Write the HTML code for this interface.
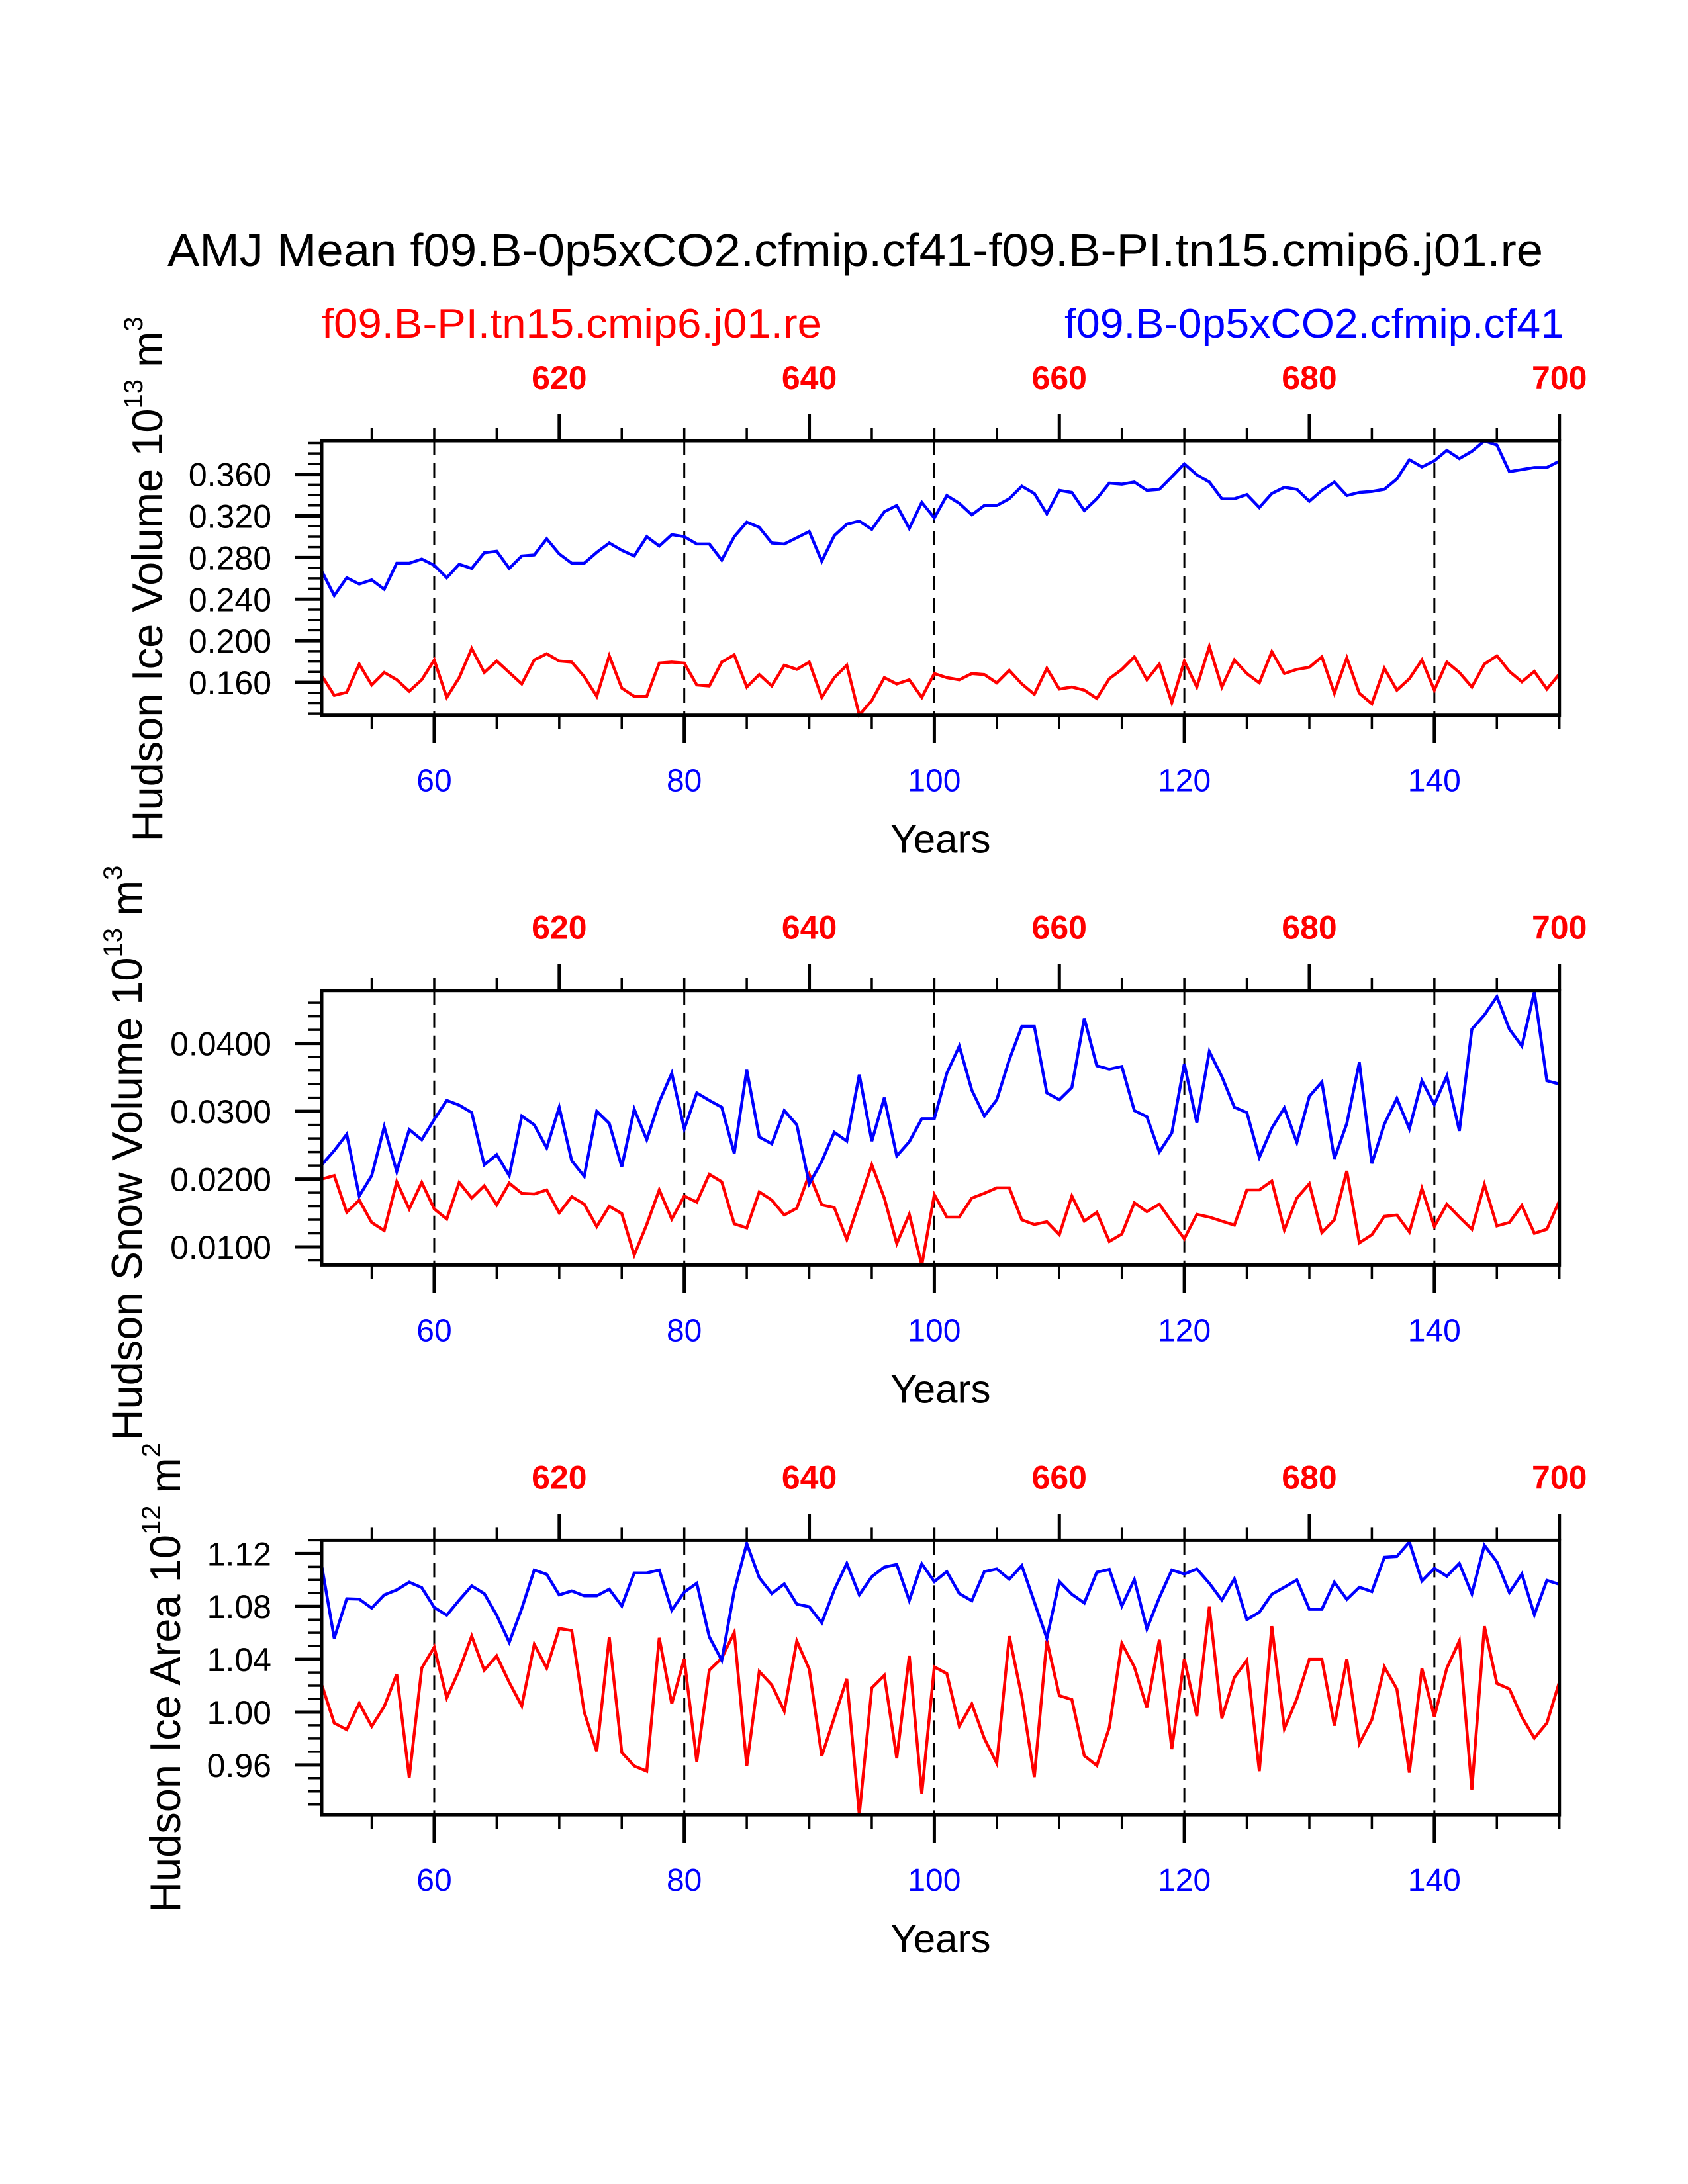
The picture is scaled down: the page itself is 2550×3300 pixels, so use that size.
<!DOCTYPE html>
<html><head><meta charset="utf-8"><style>
html,body{margin:0;padding:0;background:#fff;}
svg{display:block;font-family:"Liberation Sans",sans-serif;}
</style></head><body>
<svg id="chart" width="2550" height="3300" viewBox="0 0 2550 3300" xmlns="http://www.w3.org/2000/svg">
<rect width="2550" height="3300" fill="#fff"/>
<text x="1292" y="402" font-size="70" text-anchor="middle" textLength="2078" lengthAdjust="spacingAndGlyphs">AMJ Mean f09.B-0p5xCO2.cfmip.cf41-f09.B-PI.tn15.cmip6.j01.re</text>
<text x="486" y="510" font-size="62" fill="#ff0000" textLength="755" lengthAdjust="spacingAndGlyphs">f09.B-PI.tn15.cmip6.j01.re</text>
<text x="2363" y="510" font-size="62" fill="#0000ff" text-anchor="end" textLength="755" lengthAdjust="spacingAndGlyphs">f09.B-0p5xCO2.cfmip.cf41</text>
<g id="panels"></g>
</svg>
<script>
// shared x data
const years = [];
for (let y = 51; y <= 150; y++) years.push(y);
const bottomTicks = [60, 80, 100, 120, 140];
const topTickLabels = [620, 640, 660, 680, 700];
const topOffset = 550;

// Panel 1: Hudson Ice Volume
const iceVolExp = [0.267,0.2435,0.2605,0.2545,0.2585,0.2495,0.2745,0.2745,0.2785,0.2725,0.2605,0.2735,0.2695,0.2845,0.286,0.2695,0.2815,0.2825,0.298,0.2835,0.2745,0.2745,0.285,0.294,0.287,0.2815,0.300,0.291,0.302,0.300,0.293,0.293,0.2775,0.300,0.314,0.309,0.294,0.293,0.299,0.305,0.2765,0.301,0.312,0.315,0.307,0.324,0.330,0.308,0.333,0.318,0.3395,0.332,0.321,0.330,0.330,0.3365,0.3485,0.3415,0.322,0.3445,0.3425,0.325,0.3365,0.3515,0.3505,0.3525,0.3445,0.3455,0.3575,0.370,0.3595,0.3525,0.3365,0.3365,0.3405,0.328,0.3415,0.3475,0.3455,0.334,0.3445,0.3525,0.3395,0.3425,0.3435,0.3455,0.3555,0.374,0.367,0.373,0.383,0.375,0.382,0.392,0.388,0.3625,0.3645,0.3665,0.3665,0.3727];
const iceVolCtl = [0.1665,0.1475,0.1505,0.1775,0.1575,0.1695,0.1625,0.1515,0.1625,0.1815,0.1455,0.1645,0.1925,0.1695,0.1805,0.1695,0.1585,0.1815,0.1875,0.1805,0.1795,0.1655,0.1465,0.1855,0.1545,0.1465,0.1465,0.1785,0.1795,0.1785,0.1575,0.1565,0.1795,0.1865,0.1555,0.1675,0.1565,0.1765,0.1725,0.1795,0.1455,0.1645,0.1765,0.1285,0.1425,0.1645,0.1585,0.1625,0.1455,0.1685,0.1645,0.1625,0.1685,0.1675,0.1595,0.1715,0.1585,0.1485,0.1735,0.1535,0.1555,0.1525,0.1445,0.1635,0.1725,0.1845,0.1625,0.1775,0.1405,0.1805,0.1555,0.1945,0.1555,0.1815,0.1685,0.1595,0.1895,0.1685,0.1725,0.1745,0.1845,0.1495,0.1835,0.1495,0.1395,0.1735,0.1525,0.1635,0.1815,0.1525,0.1795,0.1695,0.1555,0.1775,0.1855,0.1705,0.1605,0.1705,0.1535,0.168];
const iceVolTicks = [0.160,0.200,0.240,0.280,0.320,0.360];
const iceVolTickLabels = ["0.160","0.200","0.240","0.280","0.320","0.360"];

// Panel 2: Hudson Snow Volume
const snowExp = [0.0221,0.0242,0.0266,0.0175,0.0205,0.0277,0.0211,0.0273,0.0258,0.0288,0.0316,0.0309,0.0298,0.0221,0.0236,0.0205,0.0293,0.0280,0.0246,0.0306,0.0227,0.0204,0.0300,0.0282,0.0218,0.0303,0.0258,0.0314,0.0356,0.0274,0.0327,0.0316,0.0306,0.0238,0.0361,0.0262,0.0252,0.0301,0.0280,0.0193,0.0226,0.0269,0.0256,0.0354,0.0256,0.0320,0.0234,0.0255,0.0289,0.0289,0.0356,0.0396,0.0331,0.0293,0.0317,0.0376,0.0425,0.0425,0.0327,0.0317,0.0335,0.0437,0.0367,0.0362,0.0366,0.0301,0.0292,0.0240,0.0268,0.0370,0.0283,0.0388,0.0351,0.0306,0.0298,0.0232,0.0275,0.0305,0.0254,0.0322,0.0343,0.0230,0.0282,0.0372,0.0223,0.0281,0.0319,0.0274,0.0345,0.0310,0.0352,0.0271,0.0421,0.0442,0.0469,0.0421,0.0396,0.0476,0.0345,0.0340];
const snowCtl = [0.0200,0.0205,0.0151,0.0169,0.0136,0.0124,0.0196,0.0156,0.0195,0.0156,0.0141,0.0195,0.0172,0.0190,0.0162,0.0194,0.0179,0.0178,0.0184,0.0150,0.0174,0.0163,0.0130,0.0160,0.0149,0.0088,0.0133,0.0184,0.0141,0.0175,0.0166,0.0207,0.0196,0.0134,0.0128,0.0181,0.0169,0.0147,0.0157,0.0207,0.0162,0.0158,0.0111,0.0166,0.0221,0.0172,0.0105,0.0148,0.0073,0.0177,0.0144,0.0144,0.0172,0.0179,0.0187,0.0187,0.0140,0.0133,0.0137,0.0118,0.0175,0.0138,0.0151,0.0108,0.0119,0.0165,0.0152,0.0163,0.0137,0.0112,0.0148,0.0144,0.0138,0.0132,0.0184,0.0184,0.0197,0.0125,0.0172,0.0193,0.0121,0.0140,0.0212,0.0106,0.0118,0.0145,0.0147,0.0122,0.0186,0.0130,0.0163,0.0144,0.0126,0.0192,0.0131,0.0136,0.0161,0.0120,0.0126,0.0168];
const snowTicks = [0.01,0.02,0.03,0.04];
const snowTickLabels = ["0.0100","0.0200","0.0300","0.0400"];

// Panel 3: Hudson Ice Area
const areaExp = [1.1108,1.0558,1.0858,1.0855,1.0787,1.0887,1.0925,1.0983,1.0942,1.0792,1.0733,1.0847,1.0955,1.0897,1.0733,1.0528,1.0783,1.1075,1.1042,1.0887,1.0917,1.0880,1.0880,1.0930,1.0803,1.1053,1.1053,1.1075,1.0770,1.0908,1.0975,1.0570,1.0392,1.0917,1.1275,1.1017,1.0897,1.0970,1.0817,1.0797,1.0675,1.0925,1.1125,1.0887,1.1025,1.1097,1.1117,1.0845,1.1122,1.0987,1.1063,1.0897,1.0842,1.1063,1.1083,1.1005,1.1108,1.0833,1.0558,1.0988,1.0892,1.0825,1.1058,1.1080,1.0803,1.1003,1.0630,1.0867,1.1075,1.1045,1.1083,1.0975,1.0847,1.1008,1.0700,1.0755,1.0892,1.0945,1.1000,1.0778,1.0778,1.0983,1.0853,1.0945,1.0912,1.1172,1.1178,1.1287,1.0992,1.1088,1.1028,1.1125,1.0895,1.1262,1.1137,1.0905,1.1045,1.0737,1.0997,1.0967];
const areaCtl = [1.0208,0.9917,0.9867,1.0067,0.9892,1.0042,1.0287,0.9505,1.0333,1.0492,1.0108,1.0317,1.0575,1.0317,1.0425,1.0225,1.0047,1.0512,1.0333,1.0633,1.0617,1.0000,0.9703,1.0567,0.9695,0.9592,0.9553,1.0562,1.0063,1.0403,0.9625,1.0317,1.0408,1.0603,0.9592,1.0308,1.0205,1.0008,1.0538,1.0325,0.9667,0.9958,1.0250,0.9223,1.0183,1.0278,0.9650,1.0425,0.9383,1.0342,1.0292,0.9892,1.0062,0.9800,0.9612,1.0575,1.0117,0.9508,1.0542,1.0125,1.0095,0.9670,0.9595,0.9883,1.0520,1.0342,1.0033,1.0547,0.9720,1.0403,0.9970,1.0797,0.9953,1.0263,1.0392,0.9553,1.0650,0.9875,1.0100,1.0400,1.0400,0.9897,1.0403,0.9762,0.9942,1.0342,1.0175,0.9542,1.0330,0.9963,1.0333,1.0538,0.9412,1.0650,1.0217,1.0175,0.9963,0.9803,0.9917,1.0228];
const areaTicks = [0.96,1.00,1.04,1.08,1.12];
const areaTickLabels = ["0.96","1.00","1.04","1.08","1.12"];

const NS = "http://www.w3.org/2000/svg";
const root = document.getElementById("panels");
function mk(tag, attrs, parent) {
  const e = document.createElementNS(NS, tag);
  for (const k in attrs) e.setAttribute(k, attrs[k]);
  (parent || root).appendChild(e);
  return e;
}

const X0 = 486, X1 = 2355.7, PH = 414.7;
function xScale(yr) { return X0 + (yr - 51) / (150 - 51) * (X1 - X0); }

const panels = [
  {key:"ice-volume", top:666, exp:iceVolExp, ctl:iceVolCtl, ticks:iceVolTicks, labels:iceVolTickLabels, minor:0.01, ymin:0.1284, ymax:0.3922,
   title:["Hudson Ice Volume 10","13"," m","3"], tx:245, tcy:875},
  {key:"snow-volume", top:1496.7, exp:snowExp, ctl:snowCtl, ticks:snowTicks, labels:snowTickLabels, minor:0.002, ymin:0.00733, ymax:0.0478,
   title:["Hudson Snow Volume 10","13"," m","3"], tx:214, tcy:1742},
  {key:"ice-area", top:2327.4, exp:areaExp, ctl:areaCtl, ticks:areaTicks, labels:areaTickLabels, minor:0.01, ymin:0.9223, ymax:1.1300,
   title:["Hudson Ice Area 10","12"," m","2"], tx:272, tcy:2535}
];

panels.forEach(p => {
  const g = mk("g", {});
  
  
  const top = p.top, bot = p.top + PH;
  const yScale = v => bot - (v - p.ymin) / (p.ymax - p.ymin) * PH;

  bottomTicks.forEach(t => {
    const l = mk("line", {x1:xScale(t), x2:xScale(t), y1:top, y2:bot, stroke:"#000", "stroke-width":3, "stroke-dasharray":"22 12"}, g);
    
    
  });

  [[p.ctl, "#ff0000", "control"], [p.exp, "#0000ff", "experiment"]].forEach(([arr, col, nm]) => {
    const d = arr.map((v, i) => (i ? "L" : "M") + xScale(years[i]).toFixed(1) + " " + yScale(v).toFixed(1)).join(" ");
    const path = mk("path", {d:d, fill:"none", stroke:col, "stroke-width":4.5, "stroke-linejoin":"miter"}, g);
    
    
  });

  const fr = mk("rect", {x:X0, y:top, width:X1 - X0, height:PH, fill:"none", stroke:"#000", "stroke-width":5}, g);
  
  

  for (let yr = 55; yr <= 150; yr += 5) {
    const x = xScale(yr);
    const bMajor = bottomTicks.includes(yr);
    mk("line", {x1:x, x2:x, y1:bot, y2:bot + (bMajor ? 42 : 21), stroke:"#000", "stroke-width":bMajor ? 5 : 3.5}, g);
    const tMajor = topTickLabels.includes(yr + topOffset);
    mk("line", {x1:x, x2:x, y1:top, y2:top - (tMajor ? 40 : 19), stroke:"#000", "stroke-width":tMajor ? 5 : 3.5}, g);
  }
  bottomTicks.forEach(t => {
    const tx = mk("text", {x:xScale(t), y:bot + 115, "font-size":48, fill:"#0000ff", "text-anchor":"middle"}, g);
    tx.textContent = t;
    
    
  });
  topTickLabels.forEach(t => {
    const tx = mk("text", {x:xScale(t - topOffset), y:top - 78, "font-size":50, "font-weight":"bold", fill:"#ff0000", "text-anchor":"middle"}, g);
    tx.textContent = t;
    
    
  });
  const xt = mk("text", {x:(X0 + X1) / 2, y:bot + 208, "font-size":60, "text-anchor":"middle"}, g);
  xt.textContent = "Years";
  
  

  const n0 = Math.ceil(p.ymin / p.minor - 1e-6), n1 = Math.floor(p.ymax / p.minor + 1e-6);
  for (let n = n0; n <= n1; n++) {
    const v = n * p.minor;
    const y = yScale(v);
    const major = p.ticks.some(t => Math.abs(t - v) < p.minor / 10);
    mk("line", {x1:X0, x2:X0 - (major ? 40 : 20), y1:y, y2:y, stroke:"#000", "stroke-width":major ? 5 : 3.5}, g);
  }
  p.ticks.forEach((t, i) => {
    const tx = mk("text", {x:410, y:yScale(t) + 18, "font-size":50, "text-anchor":"end"}, g);
    tx.textContent = p.labels[i];
    
    
  });

  const yt = mk("text", {transform:`translate(${p.tx},${p.tcy}) rotate(-90)`, "font-size":65, "text-anchor":"middle"}, g);
  
  
  const parts = p.title;
  const t1 = mk("tspan", {}, yt); t1.textContent = parts[0];
  const t2 = mk("tspan", {"font-size":40, dy:-30}, yt); t2.textContent = parts[1];
  const t3 = mk("tspan", {dy:30}, yt); t3.textContent = parts[2];
  const t4 = mk("tspan", {"font-size":40, dy:-30}, yt); t4.textContent = parts[3];
});
</script>
</body></html>
